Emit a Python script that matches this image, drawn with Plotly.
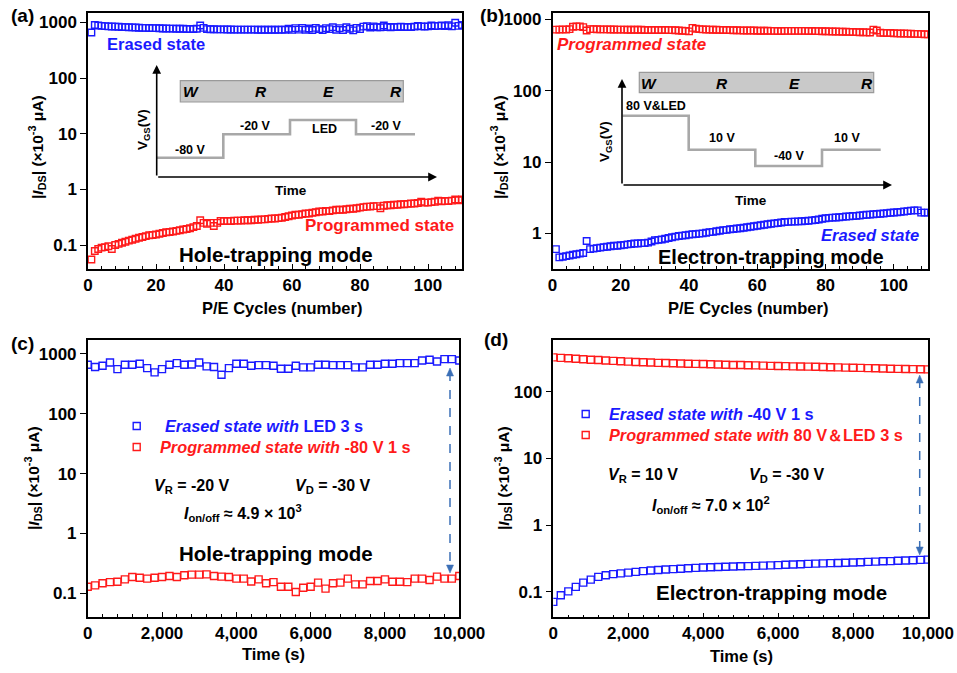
import plotly.graph_objects as go

W, H = 957, 673

# ---------------- data ----------------
cycles = list(range(1, 111))
a_erased = [660, 900, 880, 870, 860, 850, 845, 840, 835, 830,
            825, 820, 815, 810, 805, 800, 800, 795, 790, 790,
            785, 780, 780, 775, 775, 770, 770, 770, 765, 765, 765, 770,
            880, 800, 760, 755, 755, 750, 750, 750,
            748, 748, 745, 745, 745, 745, 742, 742, 742, 740, 740, 740, 740, 740, 738, 740, 745, 740,
            770, 735, 790, 745, 800, 740, 780, 730, 800, 760, 730, 790, 760, 820, 740, 790, 730, 820, 770, 720, 800, 760,
            840, 860, 810, 850, 820, 820, 880, 830, 820, 830, 830, 840, 830, 830, 830, 840, 870, 850, 840, 850,
            880, 860, 870, 880, 860, 890, 850, 990, 870, 900]
a_prog = [0.055, 0.078, 0.085, 0.09, 0.092, 0.095, 0.085, 0.1, 0.105, 0.11,
          0.115, 0.12, 0.125, 0.13, 0.135, 0.14, 0.145, 0.15, 0.152, 0.155,
          0.16, 0.165, 0.17, 0.172, 0.175, 0.18, 0.185, 0.19, 0.195, 0.2,
          0.21, 0.22, 0.28, 0.25, 0.24, 0.25, 0.22, 0.25, 0.27, 0.27,
          0.27, 0.27, 0.275, 0.275, 0.275, 0.28, 0.28, 0.28, 0.285, 0.285,
          0.29, 0.29, 0.295, 0.3, 0.3, 0.305, 0.31, 0.32, 0.33, 0.34,
          0.35, 0.35, 0.36, 0.37, 0.37, 0.38, 0.39, 0.4, 0.4, 0.41,
          0.41, 0.42, 0.43, 0.43, 0.43, 0.44, 0.45, 0.45, 0.46, 0.47,
          0.48, 0.49, 0.49, 0.5, 0.5, 0.46, 0.51, 0.52, 0.52, 0.53,
          0.53, 0.54, 0.54, 0.55, 0.56, 0.56, 0.57, 0.6, 0.58, 0.58,
          0.59, 0.6, 0.63, 0.61, 0.62, 0.62, 0.63, 0.66, 0.64, 0.66]
b_prog = [720, 720, 725, 720, 730, 790, 800, 800, 780, 700,
          730, 730, 728, 725, 725, 725, 722, 722, 720, 720,
          720, 718, 718, 715, 715, 715, 712, 712, 712, 710,
          712, 710, 710, 708, 708, 705, 700, 695, 690, 680,
          760, 740, 730, 725, 722, 720, 718, 716, 714, 712,
          710, 708, 706, 704, 702, 700, 700, 698, 698, 695,
          695, 692, 692, 690, 690, 688, 688, 690, 690, 690,
          690, 690, 690, 690, 688, 688, 686, 686, 684, 684,
          680, 678, 676, 674, 672, 670, 668, 666, 664, 662,
          660, 658, 656, 720, 700, 650, 648, 646, 644, 640,
          638, 636, 634, 632, 630, 628, 626, 622, 620, 616]
b_erased = [0.6, 0.46, 0.47, 0.48, 0.49, 0.50, 0.51, 0.52, 0.53, 0.78,
            0.6, 0.61, 0.62, 0.63, 0.64, 0.65, 0.66, 0.67, 0.67, 0.68,
            0.69, 0.7, 0.71, 0.72, 0.72, 0.73, 0.73, 0.74, 0.77, 0.8,
            0.81, 0.82, 0.84, 0.86, 0.88, 0.9, 0.92, 0.93, 0.94, 0.96,
            0.97, 0.98, 0.99, 1.0, 1.02, 1.04, 1.05, 1.07, 1.09, 1.11,
            1.12, 1.14, 1.15, 1.17, 1.18, 1.2, 1.22, 1.24, 1.26, 1.28,
            1.3, 1.32, 1.34, 1.36, 1.38, 1.4, 1.42, 1.44, 1.45, 1.46,
            1.46, 1.47, 1.48, 1.49, 1.5, 1.52, 1.54, 1.56, 1.6, 1.63,
            1.65, 1.66, 1.67, 1.68, 1.7, 1.72, 1.73, 1.75, 1.76, 1.78,
            1.8, 1.82, 1.83, 1.85, 1.87, 1.88, 1.9, 1.92, 1.94, 1.96,
            1.98, 2.0, 2.02, 2.05, 2.08, 2.1, 2.1, 1.95, 1.95, 1.95]

times = list(range(0, 10001, 200))
c_erased = [655, 600, 631, 717, 555, 655, 655, 681, 577, 489,
            555, 655, 699, 655, 664, 717, 615, 600, 447, 577,
            681, 681, 631, 647, 647, 631, 562, 562, 631, 592,
            592, 655, 655, 647, 647, 647, 592, 592, 655, 655,
            681, 681, 699, 699, 699, 774, 794, 745, 815, 815, 774]
c_prog = [0.129, 0.136, 0.147, 0.154, 0.156, 0.171, 0.187, 0.182, 0.176, 0.182,
          0.187, 0.195, 0.187, 0.2, 0.205, 0.205, 0.207, 0.195, 0.19, 0.187,
          0.176, 0.176, 0.158, 0.171, 0.147, 0.154, 0.129, 0.129, 0.105, 0.124,
          0.129, 0.151, 0.12, 0.147, 0.151, 0.176, 0.141, 0.141, 0.161, 0.161,
          0.171, 0.156, 0.156, 0.154, 0.176, 0.176, 0.167, 0.19, 0.176, 0.176, 0.195]
d_prog = [327, 322, 317, 312, 307, 302, 298, 294, 290, 286,
          282, 279, 276, 274, 271, 269, 267, 265, 263, 261,
          260, 258, 256, 254, 252, 251, 249, 248, 246, 244,
          243, 242, 240, 239, 238, 237, 235, 233, 232, 230,
          229, 228, 226, 225, 223, 221, 220, 219, 218, 217, 216]
d_erased = [0.071, 0.089, 0.102, 0.119, 0.138, 0.153, 0.168, 0.178, 0.185, 0.19,
            0.195, 0.2, 0.205, 0.209, 0.213, 0.217, 0.22, 0.223, 0.226, 0.229,
            0.232, 0.234, 0.236, 0.238, 0.24, 0.242, 0.244, 0.246, 0.248, 0.25,
            0.252, 0.255, 0.258, 0.26, 0.263, 0.266, 0.268, 0.27, 0.272, 0.274,
            0.276, 0.279, 0.282, 0.285, 0.288, 0.29, 0.293, 0.296, 0.299, 0.302, 0.305]

ytick_vals = [0.1, 1, 10, 100, 1000]
ytick_text = ["0.1", "1", "10", "100", "1000"]

BLUE = "#1a1aff"
RED = "#ff1a1a"
GRAY = "#a8a8a8"
FONT = "Liberation Sans"


def px(x):
    return x / W


def py(y):
    return 1 - y / H


fig = go.Figure()


def add_series(x, y, color, xa, ya, size=6):
    fig.add_trace(go.Scatter(x=x, y=y, mode="markers", xaxis=xa, yaxis=ya,
                             marker=dict(symbol="square-open", size=size, color=color,
                                         line=dict(width=1.4, color=color)),
                             showlegend=False, hoverinfo="skip"))


add_series(cycles, a_erased, BLUE, "x", "y", 6.5)
add_series(cycles, a_prog, RED, "x", "y", 6.5)
add_series(cycles, b_prog, RED, "x2", "y2", 6.5)
add_series(cycles, b_erased, BLUE, "x2", "y2", 6.5)
add_series(times, c_erased, BLUE, "x3", "y3", 7)
add_series(times, c_prog, RED, "x3", "y3", 7)
add_series(times, d_prog, RED, "x4", "y4", 7)
add_series(times, d_erased, BLUE, "x4", "y4", 7)

tickfont = dict(family=FONT, size=17, color="black", weight="bold")


def xaxis(domain, anchor, rng, dtick, minor_dtick, fmt=None):
    d = dict(domain=domain, anchor=anchor, range=rng, dtick=dtick, tick0=0,
             automargin=False,
             showline=True, linecolor="black", linewidth=1.5, mirror=True,
             ticks="inside", ticklen=5, tickwidth=1.3, tickcolor="black",
             minor=dict(ticks="inside", ticklen=3, dtick=minor_dtick, tick0=0, tickcolor="black", tickwidth=1),
             showgrid=False, zeroline=False, tickfont=tickfont)
    if fmt:
        d["tickformat"] = fmt
    return d


def yaxis(domain, anchor, rng):
    return dict(domain=domain, anchor=anchor, type="log", range=rng,
                automargin=False,
                tickvals=ytick_vals, ticktext=ytick_text,
                showline=True, linecolor="black", linewidth=1.5, mirror=True,
                ticks="outside", ticklen=6, tickwidth=1.3, tickcolor="black",
                showgrid=False, zeroline=False, tickfont=tickfont)


fig.update_layout(
    width=W, height=H, autosize=False,
    margin=dict(l=0, r=0, t=0, b=0, pad=0),
    paper_bgcolor="white", plot_bgcolor="white",
    font=dict(family=FONT, color="black", weight="bold"),
    xaxis=xaxis([px(88), px(462)], "y", [0, 110], 20, 4),
    yaxis=yaxis([py(269), py(13)], "x", [-1.43, 3.17]),
    xaxis2=xaxis([px(552.5), px(928)], "y2", [0, 110], 20, 4),
    yaxis2=yaxis([py(269), py(13)], "x2", [-0.5, 3.09]),
    xaxis3=xaxis([px(87.7), px(459.3)], "y3", [0, 10000], 2000, 400, ",d"),
    yaxis3=yaxis([py(616.7), py(340)], "x3", [-1.39, 3.23]),
    xaxis4=xaxis([px(553.3), px(928)], "y4", [0, 10000], 2000, 400, ",d"),
    yaxis4=yaxis([py(617.3), py(340)], "x4", [-1.38, 2.775]),
)

ann = []
shapes = []


def text(x, y, s, size=15, color="black", xanchor="center", angle=0, italic=False):
    ann.append(dict(x=px(x), y=py(y), xref="paper", yref="paper", text=s, showarrow=False,
                    xanchor=xanchor, yanchor="middle", textangle=angle,
                    font=dict(family=FONT, size=size, color=color, weight="bold",
                              style="italic" if italic else "normal")))


# panel labels
text(22, 15, "(a)", 19)
text(492, 15, "(b)", 19)
text(22, 343, "(c)", 19)
text(496, 339, "(d)", 19)

ytitle = "|<i>I</i><sub>DS</sub>| (×10<sup>-3</sup> μA)"
text(37, 147, ytitle, 15.5, angle=-90)
text(499, 147, ytitle, 15.5, angle=-90)
text(33, 478, ytitle, 15.5, angle=-90)
text(503, 478, ytitle, 15.5, angle=-90)
text(282, 308, "P/E Cycles (number)", 16.5)
text(748, 308, "P/E Cycles (number)", 16.5)
text(273, 654, "Time (s)", 16.5)
text(741, 656, "Time (s)", 16.5)

# panel a texts
text(105, 44, "Erased state", 16.5, BLUE, xanchor="left")
text(379, 226, "Programmed state", 17, RED)
text(276, 254, "Hole-trapping mode", 20.5)
# panel b texts
text(631, 45, "Programmed state", 17, RED, italic=True)
text(870, 235.5, "Erased state", 16.5, BLUE, italic=True)
text(771, 256.5, "Electron-trapping mode", 20)
# panel c texts
text(163, 426, "<i>Erased state with</i> LED 3 s", 16.3, BLUE, xanchor="left")
text(158, 447, "<i>Programmed state with</i> -80 V 1 s", 16.3, RED, xanchor="left")
text(192, 486, "<i>V</i><sub>R</sub> = -20 V", 16)
text(333, 486, "<i>V</i><sub>D</sub> = -30 V", 16)
text(243, 513, "<i>I</i><sub>on/off</sub> ≈ 4.9 × 10<sup>3</sup>", 16)
text(276, 553, "Hole-trapping mode", 20.5)
# panel d texts
text(607, 414, "<i>Erased state with</i> -40 V 1 s", 16.3, BLUE, xanchor="left")
text(607, 435, "<i>Programmed state with</i> 80 V＆LED 3 s", 16.3, RED, xanchor="left")
text(643, 475, "<i>V</i><sub>R</sub> = 10 V", 16)
text(787, 475, "<i>V</i><sub>D</sub> = -30 V", 16)
text(711, 505, "<i>I</i><sub>on/off</sub> ≈ 7.0 × 10<sup>2</sup>", 16)
text(771, 592, "Electron-trapping mode", 20.5)

# legend squares
for (x, y, c) in [(136.7, 426, BLUE), (136.7, 447, RED), (585.7, 414, BLUE), (585.7, 435, RED)]:
    shapes.append(dict(type="rect", xref="paper", yref="paper",
                       x0=px(x - 3.5), x1=px(x + 3.5), y0=py(y + 3.5), y1=py(y - 3.5),
                       line=dict(color=c, width=1.4), fillcolor="rgba(0,0,0,0)"))

# dashed double arrows
ARC = "#3b6fb6"
for (x, y0, y1) in [(450, 368, 573), (919.7, 375, 555)]:
    shapes.append(dict(type="line", xref="paper", yref="paper", x0=px(x), x1=px(x),
                       y0=py(y0 + 4), y1=py(y1 - 4), line=dict(color=ARC, width=1.5, dash="dash")))
    shapes.append(dict(type="path", xref="paper", yref="paper",
                       path=f"M {px(x)},{py(y0)} L {px(x-3.5)},{py(y0+8)} L {px(x+3.5)},{py(y0+8)} Z",
                       fillcolor=ARC, line=dict(color=ARC, width=0.5)))
    shapes.append(dict(type="path", xref="paper", yref="paper",
                       path=f"M {px(x)},{py(y1)} L {px(x-3.5)},{py(y1-8)} L {px(x+3.5)},{py(y1-8)} Z",
                       fillcolor=ARC, line=dict(color=ARC, width=0.5)))


# inset schematics
def arrow(x0, y0, x1, y1):
    ann.append(dict(x=px(x1), y=py(y1), xref="paper", yref="paper",
                    ax=x0 - x1, ay=y0 - y1, axref="pixel", ayref="pixel",
                    text="", showarrow=True, arrowhead=2, arrowsize=1.1, arrowwidth=1.6,
                    arrowcolor="black", standoff=0, startstandoff=0))


def steps(pts):
    path = "M " + " L ".join(f"{px(x)},{py(y)}" for x, y in pts)
    shapes.append(dict(type="path", xref="paper", yref="paper", path=path,
                       line=dict(color=GRAY, width=2.6)))


def bar(x0, x1, y0, y1, letters, ly):
    shapes.append(dict(type="rect", xref="paper", yref="paper", x0=px(x0), x1=px(x1),
                       y0=py(y1), y1=py(y0), fillcolor="#c9c9c9",
                       line=dict(color="#9a9a9a", width=1.2)))
    for (lx, s) in letters:
        text(lx, ly, s, 15.5, italic=True)


# (a) inset
arrow(156.7, 177, 156.7, 65)
arrow(156.7, 177, 437, 177)
bar(180.3, 403.3, 80.7, 102, [(191, "W"), (260.7, "R"), (328.3, "E"), (396, "R")], 92)
steps([(157, 157.7), (223.3, 157.7), (223.3, 134.3), (290, 134.3), (290, 120),
       (356, 120), (356, 134.3), (415, 134.3)])
text(190, 150, "-80 V", 12.5)
text(255.7, 126, "-20 V", 12.5)
text(324.3, 129.3, "LED", 12.5)
text(386.7, 126, "-20 V", 12.5)
text(291, 190, "Time", 13.5)
text(143, 130, "V<sub>GS</sub>(V)", 13.5, angle=-90)

# (b) inset
arrow(622, 185, 622, 79)
arrow(622, 185, 892, 185)
bar(639.3, 873.7, 72.3, 92.7, [(649, "W"), (722.3, "R"), (794.7, "E"), (867, "R")], 83)
steps([(622.5, 115.7), (688.7, 115.7), (688.7, 149.7), (755.3, 149.7), (755.3, 166),
       (822, 166), (822, 149.7), (880.7, 149.7)])
text(656.3, 106, "80 V&LED", 12.5)
text(722.3, 138.3, "10 V", 12.5)
text(789, 156, "-40 V", 12.5)
text(847.3, 137.7, "10 V", 12.5)
text(751.3, 200, "Time", 13.5)
text(605, 142, "V<sub>GS</sub>(V)", 13.5, angle=-90)

fig.update_layout(annotations=ann, shapes=shapes)

fig.write_html("out.html")
